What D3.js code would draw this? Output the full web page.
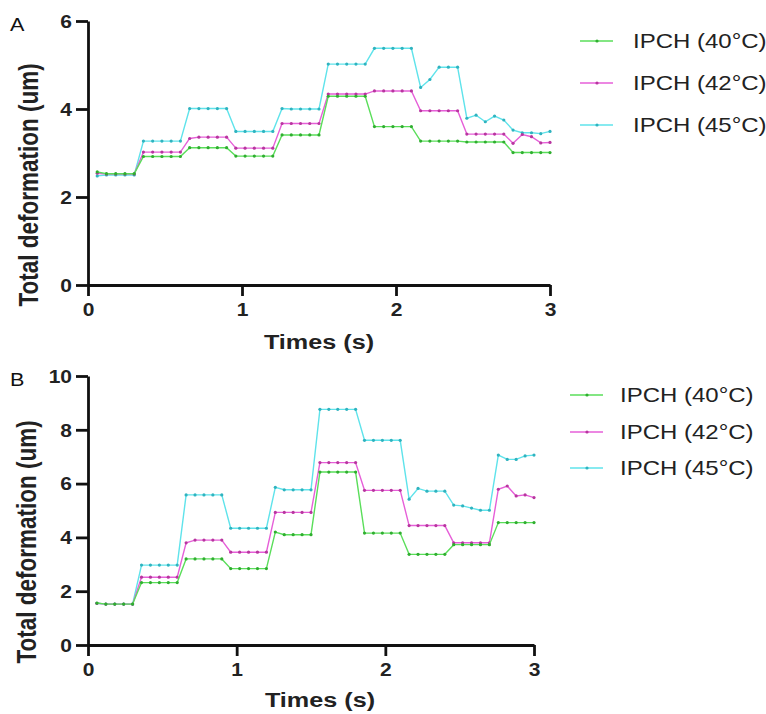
<!DOCTYPE html>
<html>
<head>
<meta charset="utf-8">
<script src="https://cdn.jsdelivr.net/npm/d3@7"></script>
<style>
  html, body { margin: 0; padding: 0; background: #fff; }
  svg { display: block; font-family: Arial, "Liberation Sans", Helvetica, sans-serif; }
</style>
</head>
<body>
<svg id="chart" width="766" height="714"></svg>
<script>
// Sampling times (s)
const times = [0.06, 0.12, 0.18, 0.24, 0.30, 0.36, 0.42, 0.48, 0.54, 0.60,
               0.66, 0.72, 0.78, 0.84, 0.90, 0.96, 1.02, 1.08, 1.14, 1.20,
               1.26, 1.32, 1.38, 1.44, 1.50, 1.56, 1.62, 1.68, 1.74, 1.80,
               1.86, 1.92, 1.98, 2.04, 2.10, 2.16, 2.22, 2.28, 2.34, 2.40,
               2.46, 2.52, 2.58, 2.64, 2.70, 2.76, 2.82, 2.88, 2.94, 3.00];

const seriesNames = ["IPCH (40°C)", "IPCH (42°C)", "IPCH (45°C)"];

// Panel A: total deformation (um)
const a40 = [2.57, 2.53, 2.53, 2.53, 2.53, 2.92, 2.92, 2.92, 2.92, 2.92,
             3.12, 3.12, 3.12, 3.12, 3.12, 2.93, 2.93, 2.93, 2.93, 2.93,
             3.41, 3.41, 3.41, 3.41, 3.41, 4.29, 4.29, 4.29, 4.29, 4.29,
             3.60, 3.60, 3.60, 3.60, 3.60, 3.27, 3.27, 3.27, 3.27, 3.27,
             3.25, 3.25, 3.25, 3.25, 3.25, 3.01, 3.01, 3.01, 3.01, 3.01];
const a42 = [2.54, 2.52, 2.52, 2.52, 2.52, 3.02, 3.02, 3.02, 3.02, 3.02,
             3.33, 3.36, 3.36, 3.36, 3.36, 3.11, 3.11, 3.11, 3.11, 3.11,
             3.67, 3.67, 3.67, 3.67, 3.67, 4.34, 4.34, 4.34, 4.34, 4.34,
             4.41, 4.41, 4.41, 4.41, 4.41, 3.96, 3.96, 3.96, 3.96, 3.96,
             3.43, 3.43, 3.43, 3.43, 3.43, 3.22, 3.42, 3.37, 3.23, 3.24];
const a45 = [2.48, 2.50, 2.50, 2.50, 2.50, 3.27, 3.27, 3.27, 3.27, 3.27,
             4.01, 4.01, 4.01, 4.01, 4.01, 3.49, 3.49, 3.49, 3.49, 3.49,
             4.01, 4.00, 4.00, 4.00, 4.00, 5.02, 5.02, 5.02, 5.02, 5.02,
             5.38, 5.38, 5.38, 5.38, 5.38, 4.49, 4.67, 4.95, 4.95, 4.95,
             3.79, 3.86, 3.71, 3.84, 3.75, 3.52, 3.46, 3.46, 3.44, 3.49];

// Panel B: total deformation (um)
const b40 = [1.56, 1.52, 1.52, 1.52, 1.52, 2.32, 2.32, 2.32, 2.32, 2.32,
             3.20, 3.20, 3.20, 3.20, 3.20, 2.84, 2.84, 2.84, 2.84, 2.84,
             4.20, 4.10, 4.10, 4.10, 4.10, 6.43, 6.43, 6.43, 6.43, 6.43,
             4.16, 4.16, 4.16, 4.16, 4.16, 3.37, 3.37, 3.37, 3.37, 3.37,
             3.73, 3.73, 3.73, 3.73, 3.73, 4.55, 4.55, 4.55, 4.55, 4.55];
const b42 = [1.55, 1.52, 1.52, 1.52, 1.52, 2.52, 2.52, 2.52, 2.52, 2.52,
             3.80, 3.90, 3.90, 3.90, 3.90, 3.45, 3.45, 3.45, 3.45, 3.45,
             4.93, 4.93, 4.93, 4.93, 4.93, 6.78, 6.78, 6.78, 6.78, 6.78,
             5.75, 5.75, 5.75, 5.75, 5.75, 4.44, 4.44, 4.44, 4.44, 4.44,
             3.80, 3.80, 3.80, 3.80, 3.80, 5.79, 5.91, 5.54, 5.58, 5.48];
const b45 = [1.55, 1.52, 1.52, 1.52, 1.52, 2.97, 2.97, 2.97, 2.97, 2.97,
             5.58, 5.58, 5.58, 5.58, 5.58, 4.34, 4.34, 4.34, 4.34, 4.34,
             5.86, 5.77, 5.77, 5.77, 5.77, 8.76, 8.76, 8.76, 8.76, 8.76,
             7.61, 7.61, 7.61, 7.61, 7.61, 5.42, 5.82, 5.72, 5.72, 5.72,
             5.20, 5.17, 5.09, 5.01, 5.01, 7.06, 6.90, 6.90, 7.03, 7.06];

const xTicks = [0, 1, 2, 3];
const yTicksA = [0, 2, 4, 6];
const yTicksB = [0, 2, 4, 6, 8, 10];

const lineColors = ["#5ade5a", "#e65fd8", "#5fe3eb"];
const dotColors  = ["#2fae2f", "#b8359f", "#2fb3bf"];

// Horizontal text stretch used throughout the figure
const SX = 1.2;

const svg = d3.select("#chart");

function drawPanel(cfg) {
  const g = svg.append("g");
  const x = d3.scaleLinear().domain([0, 3]).range([cfg.x0, cfg.x1]);
  const y = d3.scaleLinear().domain([0, cfg.yMax]).range([cfg.y0, cfg.y1]);

  // axes
  const xAxis = g.append("g")
    .attr("transform", `translate(0,${cfg.y0})`)
    .call(d3.axisBottom(x).tickValues(xTicks).tickFormat(d3.format("d")).tickSize(11).tickSizeOuter(0));
  const yAxis = g.append("g")
    .attr("transform", `translate(${cfg.x0},0)`)
    .call(d3.axisLeft(y).tickValues(cfg.yTicks).tickFormat(d3.format("d")).tickSize(12).tickSizeOuter(0));

  [xAxis, yAxis].forEach(ax => {
    ax.select(".domain").attr("stroke", "#111").attr("stroke-width", 2.8);
    ax.selectAll(".tick line").attr("stroke", "#111").attr("stroke-width", 2.8);
    ax.selectAll(".tick text")
      .attr("fill", "#222")
      .attr("font-size", 17.5)
      .attr("font-weight", "bold")
      .attr("font-family", "Arial, 'Liberation Sans', sans-serif");
  });
  xAxis.selectAll(".tick text").attr("y", 19).attr("dy", "0.71em")
    .attr("transform", `scale(${SX},1)`);
  yAxis.selectAll(".tick text").attr("x", -16 / SX).attr("dy", "0.36em")
    .attr("transform", `scale(${SX},1)`);

  // series: 45 first, 40 on top
  const seriesList = cfg.series;
  const order = [2, 1, 0];
  const line = d3.line().x((d, i) => x(times[i])).y(d => y(d));
  order.forEach(si => {
    const vals = seriesList[si];
    g.append("path")
      .datum(vals)
      .attr("fill", "none")
      .attr("stroke", lineColors[si])
      .attr("stroke-width", 1.4)
      .attr("d", line);
    g.append("g").selectAll("circle")
      .data(vals)
      .join("circle")
      .attr("cx", (d, i) => x(times[i]))
      .attr("cy", d => y(d))
      .attr("r", 1.6)
      .attr("fill", dotColors[si]);
  });

  // axis titles
  g.append("text")
    .attr("transform", `translate(${cfg.yTitleX},${cfg.yTitleY}) scale(${SX},1) rotate(-90)`)
    .attr("text-anchor", "middle")
    .attr("font-size", 22.5)
    .attr("font-weight", "bold")
    .attr("fill", "#222")
    .text("Total deformation (um)");
  g.append("text")
    .attr("transform", `translate(${cfg.xTitleX},${cfg.xTitleY}) scale(${SX},1)`)
    .attr("text-anchor", "middle")
    .attr("font-size", 21)
    .attr("font-weight", "bold")
    .attr("fill", "#222")
    .text("Times (s)");

  // panel letter
  g.append("text")
    .attr("transform", `translate(10,${cfg.letterY}) scale(${SX},1)`)
    .attr("font-size", 18)
    .attr("fill", "#111")
    .text(cfg.letter);

  // legend
  const leg = g.append("g");
  seriesNames.forEach((name, i) => {
    const ry = cfg.legRows[i];
    leg.append("line")
      .attr("x1", cfg.legX).attr("x2", cfg.legX + 33)
      .attr("y1", ry).attr("y2", ry)
      .attr("stroke", lineColors[i]).attr("stroke-width", 1.4);
    leg.append("circle")
      .attr("cx", cfg.legX + 17).attr("cy", ry).attr("r", 1.6)
      .attr("fill", dotColors[i]);
    leg.append("text")
      .attr("transform", `translate(${cfg.legTextX},${ry + 7}) scale(${SX},1)`)
      .attr("font-size", 20)
      .attr("fill", "#222")
      .text(name);
  });
}

drawPanel({
  letter: "A", letterY: 31,
  x0: 88, x1: 550, y0: 285, y1: 21, yMax: 6, yTicks: yTicksA,
  series: [a40, a42, a45],
  yTitleX: 38, yTitleY: 185,
  xTitleX: 319, xTitleY: 349,
  legX: 580, legTextX: 633, legRows: [41, 83, 125]
});

drawPanel({
  letter: "B", letterY: 386,
  x0: 88, x1: 534, y0: 645, y1: 376, yMax: 10, yTicks: yTicksB,
  series: [b40, b42, b45],
  yTitleX: 36, yTitleY: 542,
  xTitleX: 320, xTitleY: 707,
  legX: 570, legTextX: 620, legRows: [395, 432, 468]
});
</script>
</body>
</html>
